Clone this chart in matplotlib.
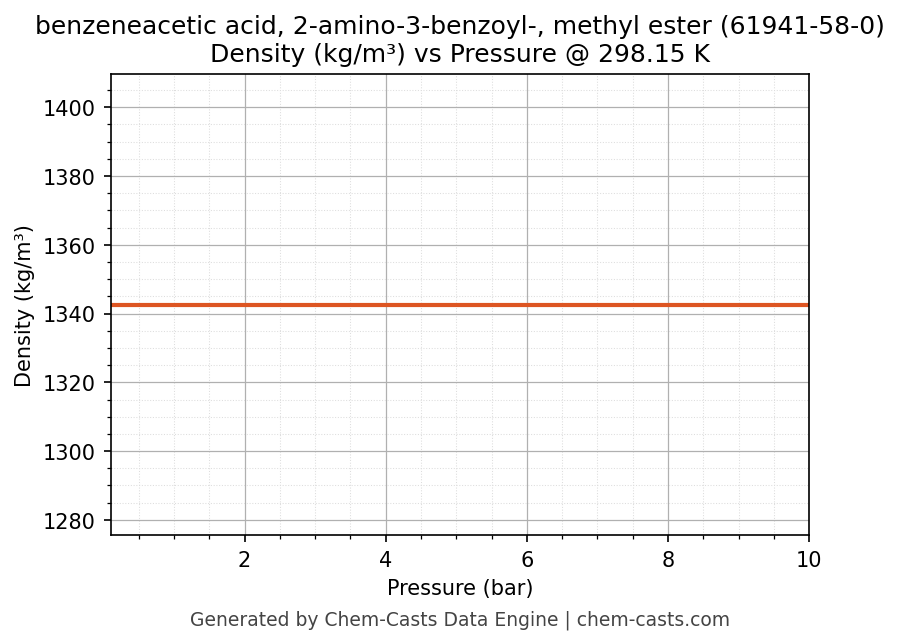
import numpy as np
import matplotlib.pyplot as plt
from matplotlib.ticker import AutoMinorLocator

# data
pressure = [0.1, 1.0, 2.0, 3.0, 4.0, 5.0, 6.0, 7.0, 8.0, 9.0, 10.0]
density = [1342.6] * len(pressure)
rho0 = 1342.6

fig, ax = plt.subplots(figsize=(5.993, 4.293), dpi=150)
fig.subplots_adjust(left=0.123, right=0.9, top=0.884, bottom=0.167)

ax.plot(pressure, density, color='#dd5522', linewidth=2.0)

ax.set_xlim(0.1, 10)
ax.set_ylim(rho0 * 0.95, rho0 * 1.05)
ax.xaxis.set_minor_locator(AutoMinorLocator(4))
ax.yaxis.set_minor_locator(AutoMinorLocator(4))
ax.grid(which='major', color='#b0b0b0', linewidth=0.6)
ax.grid(which='minor', color='#dddddd', linestyle=':', linewidth=0.5)

ax.set_xlabel('Pressure (bar)')
ax.set_ylabel('Density (kg/m³)')
ax.set_title('benzeneacetic acid, 2-amino-3-benzoyl-, methyl ester (61941-58-0)\n'
             'Density (kg/m³) vs Pressure @ 298.15 K', fontsize=12)
# footer centred under the axes
fig.text(0.5115, 0.028, 'Generated by Chem-Casts Data Engine | chem-casts.com',
         ha='center', fontsize=9, color='#444444')

fig.savefig('out.png', dpi=150)
